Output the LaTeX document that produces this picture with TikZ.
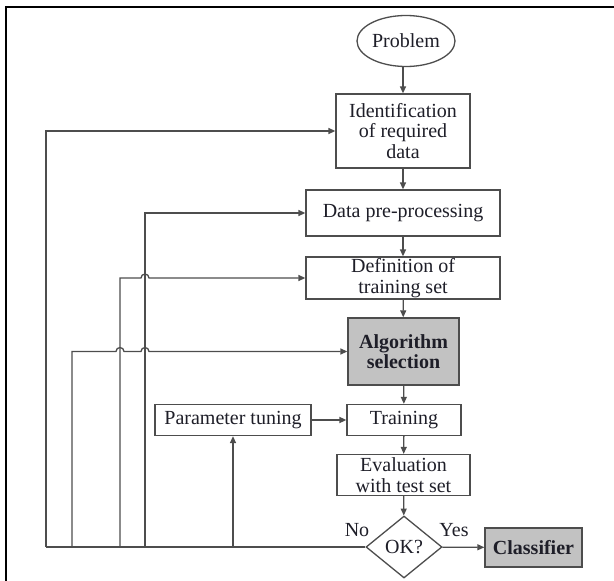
\documentclass[tikz,border=0pt]{standalone}
\usepackage{fontspec}
\setmainfont{Liberation Serif}
\usetikzlibrary{arrows.meta,shapes.geometric}
\definecolor{lncol}{HTML}{4D4D4D}
\definecolor{gfill}{HTML}{C2C2C2}
\definecolor{txt}{HTML}{1E1E28}
\begin{document}
\begin{tikzpicture}[x=1pt,y=-1pt,
  font=\fontsize{20}{20.5}\selectfont,
  box/.style={draw=lncol, line width=1.3pt, fill=white, text=txt, align=center, inner sep=0pt},
  gbox/.style={box, fill=gfill, font=\fontsize{20}{20.5}\selectfont\bfseries},
  wire/.style={draw=lncol, line width=1.3pt},
  arr/.style={wire, -{Triangle[length=7pt,width=6pt]}},
  lbl/.style={text=txt, inner sep=0pt}]
\useasboundingbox (0,0) rectangle (614,581);
\draw[line width=2pt] (6,581) -- (6,7) -- (614,7);

\node[box, ellipse, minimum width=98pt, minimum height=51pt] (prob) at (406,41) {Problem};
\node[box, minimum width=134pt, minimum height=74pt] (ident) at (403,131) {Identification\\of required\\data};
\node[box, minimum width=194pt, minimum height=46pt] (pre) at (403,213) {Data pre-processing};
\node[box, minimum width=194pt, minimum height=42pt] (def) at (403,278) {Definition of\\training set};
\node[gbox, minimum width=111pt, minimum height=67pt] (alg) at (403.5,351.5) {Algorithm\\selection};
\node[box, minimum width=156pt, minimum height=31pt] (par) at (233,420) {Parameter tuning};
\node[box, minimum width=114pt, minimum height=31pt] (train) at (404,420) {Training};
\node[box, minimum width=133pt, minimum height=41pt] (eval) at (403.5,475) {Evaluation\\with test set};
\node[box, diamond, minimum width=76pt, minimum height=62pt] (ok) at (404,547) {OK?};
\node[gbox, minimum width=97pt, minimum height=39pt] (cls) at (533.5,547.5) {Classifier};
\node[lbl] (no) at (357,530) {No};
\node[lbl] (yes) at (454,530) {Yes};

\draw[arr] (prob.south -| ident.north) -- (ident.north);
\draw[arr] (ident) -- (pre);
\draw[arr] (pre) -- (def);
\draw[arr] (def) -- (alg);
\draw[arr] (alg) -- (train);
\draw[arr, line width=1.7pt] (par) -- (train);
\draw[arr] (train) -- (eval);
\draw[arr] (eval) -- (ok);
\draw[arr] (ok) -- (cls);

\coordinate (c1) at (46,547);
\coordinate (c2) at (72,547);
\coordinate (c3) at (120,547);
\coordinate (c4) at (145,547);
\coordinate (c5) at (233,547);

\draw[wire] (ok.west) -- (c1);
\draw[arr] (c1) -- (c1 |- ident.west) -- (ident.west);
\draw[arr] (c4) -- (c4 |- pre.west) -- (pre.west);
\draw[arr] (c3) -- (c3 |- def.west) -- ([xshift=-4pt]c4 |- def.west)
   arc[start angle=180, end angle=0, radius=4pt] -- (def.west);
\draw[arr] (c2) -- (c2 |- alg.west) -- ([xshift=-4pt]c3 |- alg.west)
   arc[start angle=180, end angle=0, radius=4pt] -- ([xshift=-4pt]c4 |- alg.west)
   arc[start angle=180, end angle=0, radius=4pt] -- (alg.west);
\draw[arr] (c5) -- (par.south);
\end{tikzpicture}
\end{document}
